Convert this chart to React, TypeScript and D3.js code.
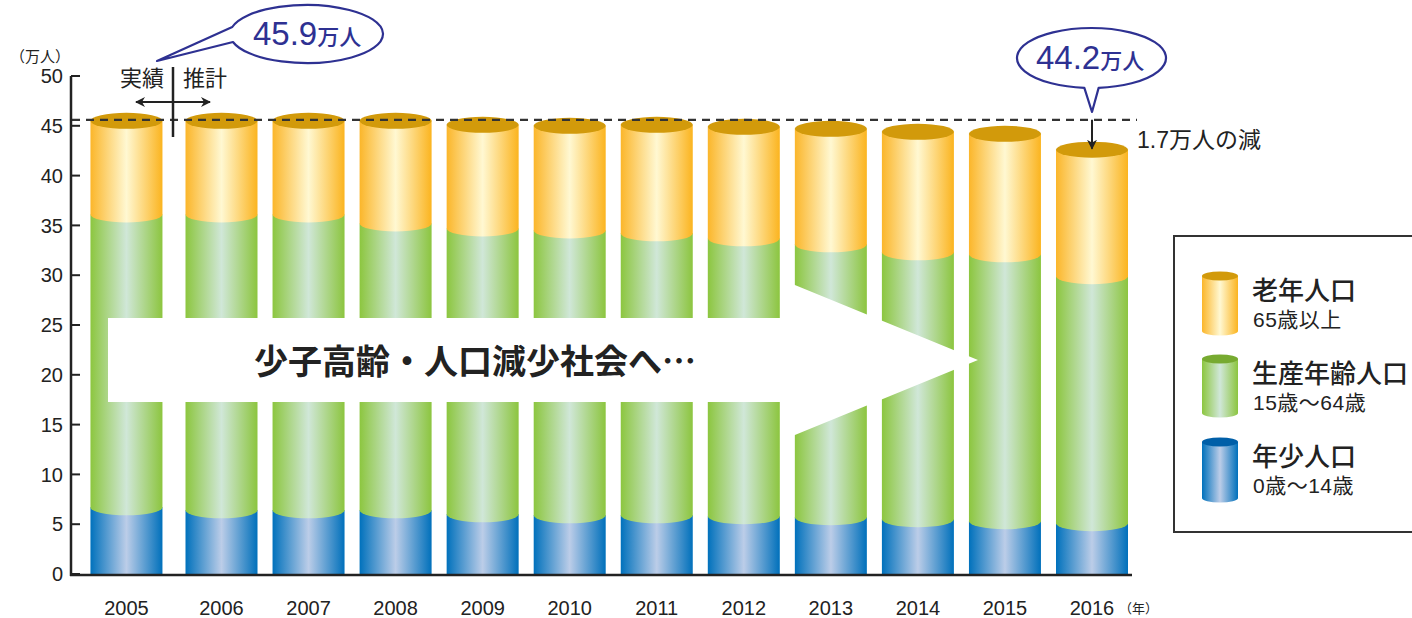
import React from "react";
import * as d3 from "d3";

const years = [2005, 2006, 2007, 2008, 2009, 2010, 2011, 2012, 2013, 2014, 2015, 2016];
const young = [6.7, 6.4, 6.4, 6.4, 6.0, 5.9, 5.9, 5.8, 5.7, 5.5, 5.3, 5.1];
const working = [29.4, 29.7, 29.7, 28.8, 28.7, 28.6, 28.3, 27.9, 27.4, 26.8, 26.8, 24.8];
const elderly = [9.4, 9.4, 9.4, 10.3, 10.4, 10.5, 10.9, 11.2, 11.6, 12.1, 12.1, 12.7];
const yTicks = [0, 5, 10, 15, 20, 25, 30, 35, 40, 45, 50];
const calloutStart = { num: "45.9", unit: "万人" };
const calloutEnd = { num: "44.2", unit: "万人" };
const diffLabel = "1.7万人の減";
const bannerText = "少子高齢・人口減少社会へ…";
const legendItems = [
  { key: "elderly", title: "老年人口", sub: "65歳以上" },
  { key: "working", title: "生産年齢人口", sub: "15歳～64歳" },
  { key: "young", title: "年少人口", sub: "0歳～14歳" },
];

const W = 1412;
const H = 618;
const NUM_FONT = "'Liberation Sans', Arial, 'Noto Sans CJK JP', sans-serif";
const JP_FONT = "'Noto Sans CJK JP', 'Noto Sans', sans-serif";

const colors: Record<string, { l: string; m: string; r: string; top: string }> = {
  elderly: { l: "#fbb62a", m: "#fff8d2", r: "#fbb41f", top: "#d29a0b" },
  working: { l: "#8cc63f", m: "#d0e7d8", r: "#8cc53f", top: "#77aa30" },
  young: { l: "#0071bc", m: "#bccde8", r: "#0070bb", top: "#005fa8" },
};

export default function App() {
  const y = d3.scaleLinear().domain([0, 50]).range([574, 76]);
  const xMain = d3.scaleLinear().domain([2006, 2016]).range([221.5, 1092]);
  const xc = (yr: number) => (yr === 2005 ? xMain(2005) - 8 : xMain(yr));
  const barW = 72;
  const rx = barW / 2;
  const ry = 8;

  const table = years.map((yr, i) => ({ year: yr, young: young[i], working: working[i], elderly: elderly[i] }));
  const stack = d3.stack<any>().keys(["young", "working", "elderly"]);
  const series = stack(table);

  const segPath = (x0: number, x1: number, yTop: number, yBot: number, arc: boolean) =>
    `M${x0},${yTop}L${x1},${yTop}L${x1},${yBot}` +
    (arc ? `A${rx},${ry} 0 0 1 ${x0},${yBot}` : `L${x0},${yBot}`) +
    "Z";

  const totals = table.map((d) => d.young + d.working + d.elderly);
  const dashY = y(totals[0]) - 1;
  const lastX = xc(years[years.length - 1]);
  const lastTop = y(totals[totals.length - 1]);

  const c1 = { cx: 306.5, cy: 34, rx: 76.5, ry: 29, tip: [157, 61] };
  const pt = (c: any, deg: number) => [c.cx + c.rx * Math.cos((deg * Math.PI) / 180), c.cy + c.ry * Math.sin((deg * Math.PI) / 180)];
  const c1a = pt(c1, -166);
  const c1b = pt(c1, 164);
  const c1Path = `M${c1a[0]},${c1a[1]}A${c1.rx},${c1.ry} 0 1 1 ${c1b[0]},${c1b[1]}L${c1.tip[0]},${c1.tip[1]}Z`;
  const c2 = { cx: 1091.5, cy: 58, rx: 74.5, ry: 30, tip: [lastX, 112] };
  const c2a = pt(c2, 95.5);
  const c2b = pt(c2, 84.5);
  const c2Path = `M${c2a[0]},${c2a[1]}A${c2.rx},${c2.ry} 0 1 1 ${c2b[0]},${c2b[1]}L${c2.tip[0]},${c2.tip[1]}Z`;

  const bx0 = 108, bx1 = 790, btop = 318, bbot = 402, hTop = 283, hBot = 437, tipX = 978, midY = 360;
  const banner = `M${bx0},${btop}L${bx1},${btop}L${bx1},${hTop}L${tipX},${midY}L${bx1},${hBot}L${bx1},${bbot}L${bx0},${bbot}Z`;

  const keys = ["young", "working", "elderly"];
  const navy = "#2e3192";

  return (
    <svg width={W} height={H} style={{ position: "absolute", left: 0, top: 0, display: "block", background: "#fff" }}>
      <defs>
        {keys.map((k) => (
          <linearGradient id={`g-${k}`} key={k} x1="0" x2="1" y1="0" y2="0">
            <stop offset="0" stopColor={colors[k].l} />
            <stop offset="0.5" stopColor={colors[k].m} />
            <stop offset="1" stopColor={colors[k].r} />
          </linearGradient>
        ))}
        <marker id="ah" viewBox="0 0 10 10" refX="9" refY="5" markerWidth="5" markerHeight="5" orient="auto-start-reverse">
          <path d="M0,0L10,5L0,10L3,5Z" fill="#222" />
        </marker>
      </defs>

      {table.map((d, i) => {
        const cx = xc(d.year);
        const x0 = cx - rx;
        const x1 = cx + rx;
        return (
          <g key={d.year}>
            {series.map((s, si) => {
              const seg = s[i];
              return (
                <path key={s.key} d={segPath(x0, x1, y(seg[1]), y(seg[0]), si > 0)} fill={`url(#g-${s.key})`} />
              );
            })}
            <ellipse cx={cx} cy={y(totals[i])} rx={rx} ry={ry} fill={colors.elderly.top} />
          </g>
        );
      })}

      <path d={banner} fill="#fff" />
      <text x={254} y={374} fontFamily={JP_FONT} fontWeight={700} fontSize={34} fill="#222">
        {bannerText}
      </text>

      <line x1={72} x2={1137} y1={dashY} y2={dashY} stroke="#333" strokeWidth={2.2} strokeDasharray="8,6" />

      <line x1={71} x2={71} y1={76} y2={576} stroke="#222" strokeWidth={2.5} />
      <line x1={70} x2={1132} y1={575} y2={575} stroke="#222" strokeWidth={2.5} />
      {yTicks.map((t) => (
        <g key={t}>
          <line x1={71} x2={80} y1={y(t)} y2={y(t)} stroke="#222" strokeWidth={2} />
          <text x={63} y={y(t)} dy="0.36em" textAnchor="end" fontFamily={NUM_FONT} fontSize={20} fill="#222">
            {t}
          </text>
        </g>
      ))}
      <text x={10} y={62} fontFamily={JP_FONT} fontSize={15} fill="#222">（万人）</text>
      {years.map((yr) => (
        <text key={yr} x={xc(yr)} y={615} textAnchor="middle" fontFamily={NUM_FONT} fontSize={20} fill="#222">
          {yr}
        </text>
      ))}
      <text x={1119} y={613} fontFamily={JP_FONT} fontSize={13} fill="#222">（年）</text>

      <line x1={173} x2={173} y1={67} y2={137} stroke="#222" strokeWidth={2.5} />
      <line x1={136} x2={210} y1={102} y2={102} stroke="#222" strokeWidth={2} markerStart="url(#ah)" markerEnd="url(#ah)" />
      <text x={120} y={86} fontFamily={JP_FONT} fontSize={22} fill="#222">実績</text>
      <text x={183} y={86} fontFamily={JP_FONT} fontSize={22} fill="#222">推計</text>

      <path d={c1Path} fill="#fff" stroke={navy} strokeWidth={2.2} strokeLinejoin="round" />
      <text x={253} y={45} fontFamily={NUM_FONT} fill={navy}>
        <tspan fontSize={33}>{calloutStart.num}</tspan>
        <tspan fontSize={22} fontFamily={JP_FONT} fontWeight={500}>{calloutStart.unit}</tspan>
      </text>
      <path d={c2Path} fill="#fff" stroke={navy} strokeWidth={2.2} strokeLinejoin="round" />
      <text x={1036} y={69} fontFamily={NUM_FONT} fill={navy}>
        <tspan fontSize={33}>{calloutEnd.num}</tspan>
        <tspan fontSize={22} fontFamily={JP_FONT} fontWeight={500}>{calloutEnd.unit}</tspan>
      </text>

      <line x1={lastX} x2={lastX} y1={dashY} y2={lastTop - 1} stroke="#222" strokeWidth={2} markerEnd="url(#ah)" />
      <text x={1137} y={148} fontFamily={NUM_FONT} fontSize={23} fill="#222">{diffLabel}</text>

      <rect x={1174} y={236} width={260} height={296} fill="#fff" stroke="#333" strokeWidth={2} />
      {legendItems.map((it, i) => {
        const top = [276, 359, 442][i];
        const bot = [331, 413, 498][i];
        const cx = 1220;
        const lrx = 18;
        const lry = 4.5;
        return (
          <g key={it.key}>
            <path
              d={`M${cx - lrx},${top}L${cx + lrx},${top}L${cx + lrx},${bot}A${lrx},${lry} 0 0 1 ${cx - lrx},${bot}Z`}
              fill={`url(#g-${it.key})`}
            />
            <ellipse cx={cx} cy={top} rx={lrx} ry={lry} fill={colors[it.key].top} />
            <text x={1252} y={[300, 383, 466][i]} fontFamily={JP_FONT} fontWeight={500} fontSize={26} fill="#222">
              {it.title}
            </text>
            <text x={1253} y={[327, 410, 493][i]} fontFamily={NUM_FONT} fontSize={21} letterSpacing={0.5} fill="#222">
              {it.sub}
            </text>
          </g>
        );
      })}
    </svg>
  );
}
